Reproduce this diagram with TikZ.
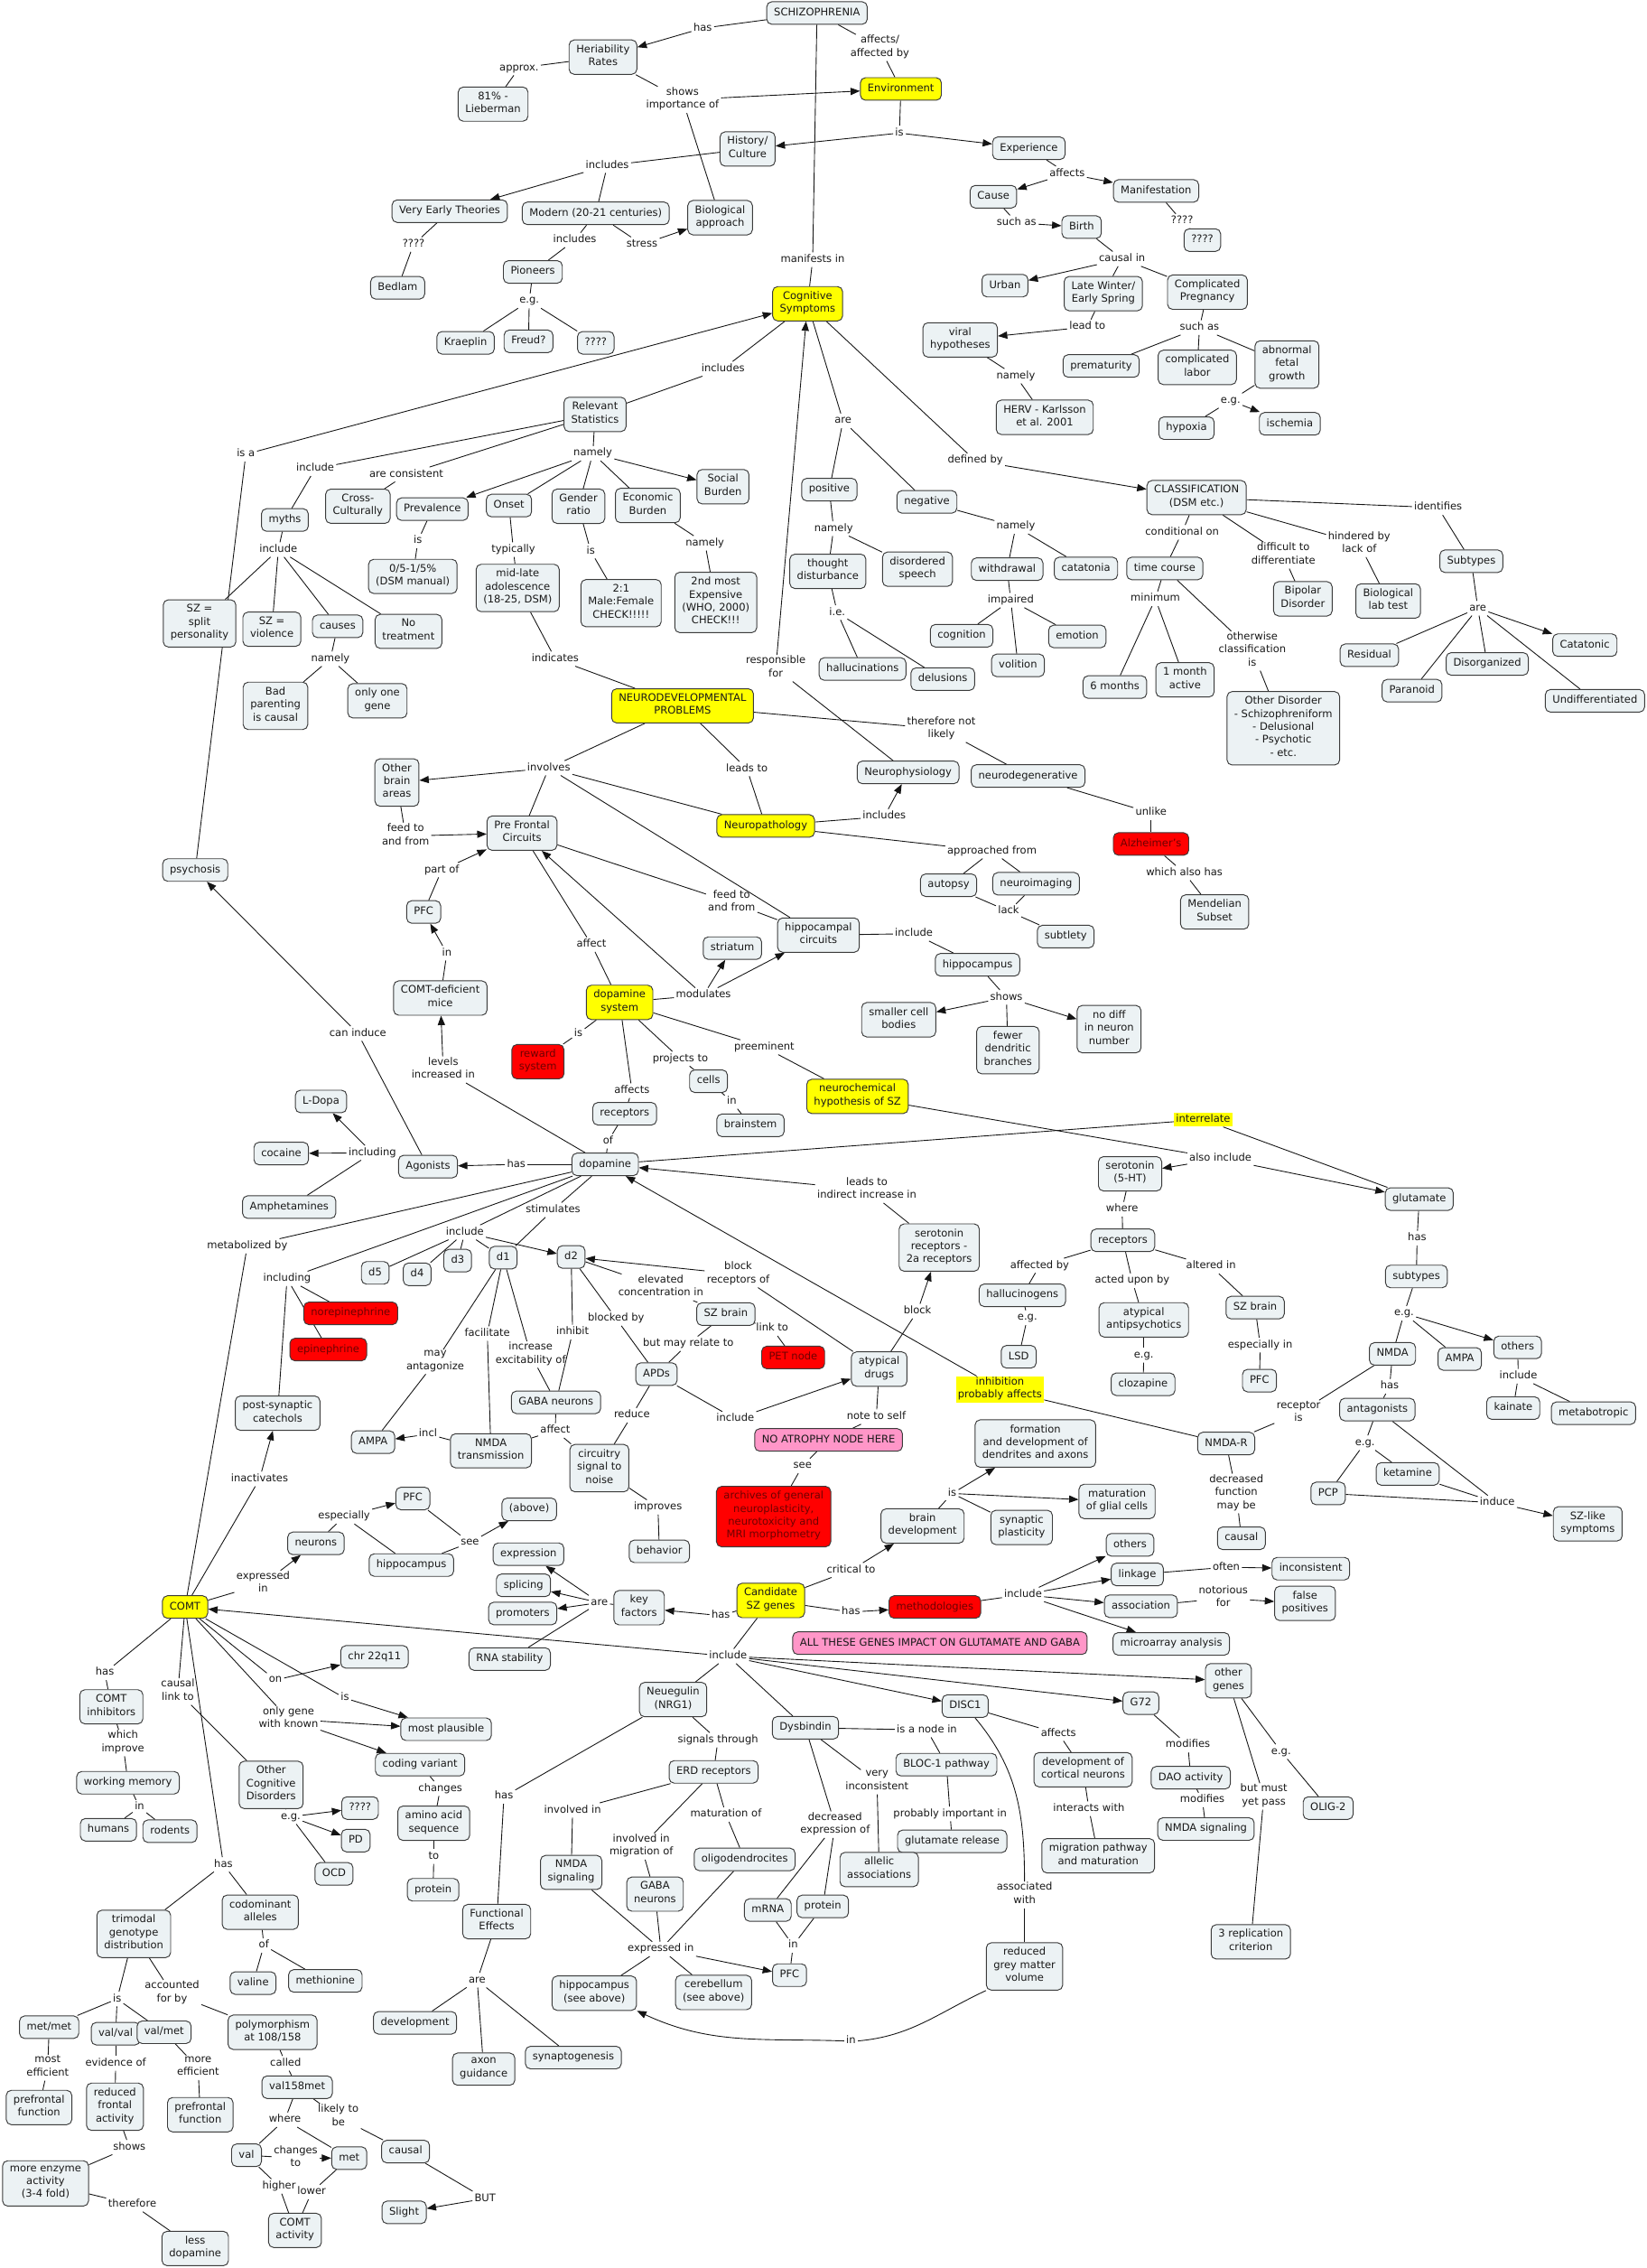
\documentclass[tikz,border=0pt]{standalone}
\usepackage{fontspec}
\setmainfont{DejaVu Sans}
\usetikzlibrary{arrows.meta,backgrounds}
\definecolor{cfill}{RGB}{236,242,244}
\definecolor{bord}{RGB}{60,60,60}
\definecolor{yel}{RGB}{255,255,0}
\definecolor{redc}{RGB}{255,0,0}
\definecolor{redtxt}{RGB}{110,0,0}
\definecolor{pinkc}{RGB}{255,150,200}
\definecolor{txt}{RGB}{25,25,25}
\definecolor{linec}{RGB}{20,20,20}
\newcommand{\cmf}{\fontsize{7.2pt}{9pt}\selectfont}
\newcommand{\conl}[2]{\draw[ln] (#1) -- (#2);}
\newcommand{\cona}[2]{\draw[ar] (#1) -- (#2);}
\begin{document}
\begin{tikzpicture}[x=1pt,y=-1pt,
 base/.style={font=\cmf,align=center,text=txt,execute at begin node=\strut,execute at end node=\strut},
 cn/.style={base,draw=bord,fill=cfill,rounded corners=3.5pt,line width=0.6pt,inner xsep=5pt,inner ysep=3.3pt},
 cny/.style={cn,fill=yel},
 cnr/.style={cn,fill=redc,text=redtxt},
 cnp/.style={cn,fill=pinkc},
 lk/.style={base,inner xsep=1.3pt,inner ysep=0.4pt},
 lky/.style={lk,fill=yel},
 ln/.style={line width=0.55pt,draw=linec},
 ar/.style={ln,-{Triangle[length=6.5pt,width=5pt]}}]
\useasboundingbox (0,0) rectangle (1139,1568);
% ---------------- top
\node[cn] (sz) at (565,9) {SCHIZOPHRENIA};
\node[lk] (lhas1) at (486,19.5) {has};
\node[cn] (her) at (417,39.5) {Heriability\\Rates};
\node[lk] (lapprox) at (359,47) {approx.};
\node[cn] (p81) at (341,72) {81\% -\\Lieberman};
\node[lk] (laff) at (608.5,33) {affects/\\affected by};
\node[cny] (env) at (623,61.5) {Environment};
\node[lk] (lshows) at (472,69) {shows\\importance of};
\node[cn] (hist) at (517,103) {History/\\Culture};
\node[lk] (lis1) at (622,92) {is};
\node[cn] (exper) at (711.5,102.5) {Experience};
\node[lk] (lincl1) at (420,114.5) {includes};
\node[cn] (vet) at (311,146) {Very Early Theories};
\node[cn] (modern) at (412,147.5) {Modern (20-21 centuries)};
\node[cn] (bio) at (498,150.5) {Biological\\approach};
\node[lk] (lq1) at (286,169) {????};
\node[cn] (bed) at (275,199) {Bedlam};
\node[lk] (lincl2) at (397.5,166) {includes};
\node[lk] (lstress) at (444,169) {stress};
\node[cn] (pio) at (368.5,188) {Pioneers};
\node[lk] (leg1) at (366,208) {e.g.};
\node[cn] (kra) at (322,237) {Kraeplin};
\node[cn] (freud) at (365.5,236) {Freud?};
\node[cn] (qq2) at (412,237) {????};
\node[lk] (laffects1) at (738,120) {affects};
\node[cn] (cause) at (687,136) {Cause};
\node[cn] (manif) at (799.5,132) {Manifestation};
\node[lk] (lq3) at (817.5,153) {????};
\node[cn] (qq4) at (831.5,166) {????};
\node[lk] (lsuch1) at (703,154) {such as};
\node[cn] (birth) at (748,157) {Birth};
\node[lk] (lcausal) at (776,179) {causal in};
\node[cn] (urban) at (695,197.5) {Urban};
\node[cn] (late) at (763,203) {Late Winter/\\Early Spring};
\node[cn] (compp) at (835,202) {Complicated\\Pregnancy};
\node[lk] (lmanif) at (562,179.5) {manifests in};
\node[cny] (cog) at (558.5,210) {Cognitive\\Symptoms};
\node[lk] (llead) at (752,226) {lead to};
\node[cn] (viral) at (664,235) {viral\\hypotheses};
\node[lk] (lsuch2) at (829.5,226.5) {such as};
\node[cn] (prem) at (761.5,253) {prematurity};
\node[cn] (clab) at (828,254) {complicated\\labor};
\node[cn] (afg) at (890,252) {abnormal\\fetal\\growth};
\node[lk] (lnamely1) at (702.5,260) {namely};
\node[cn] (herv) at (722.5,288.5) {HERV - Karlsson\\et al. 2001};
\node[lk] (leg2) at (851,277) {e.g.};
\node[cn] (hypox) at (820.5,296) {hypoxia};
\node[cn] (isch) at (892,293) {ischemia};
% ---------------- upper middle
\node[lk] (lincl3) at (500,255) {includes};
\node[cn] (rel) at (411.5,286.5) {Relevant\\Statistics};
\node[lk] (lare1) at (583,291) {are};
\node[lk] (ldefby) at (674.5,318.5) {defined by};
\node[lk] (lisa) at (170,314) {is a};
\node[lk] (lincl4) at (218,324) {include};
\node[lk] (larecons) at (281,328) {are consistent};
\node[lk] (lnamely2) at (410,313.5) {namely};
\node[cn] (social) at (500,336.5) {Social\\Burden};
\node[cn] (cross) at (247.5,350) {Cross-\\Culturally};
\node[cn] (prev) at (299,352) {Prevalence};
\node[cn] (onset) at (352,349.5) {Onset};
\node[cn] (gender) at (400,350) {Gender\\ratio};
\node[cn] (econ) at (448,349.5) {Economic\\Burden};
\node[cn] (pos) at (573.5,338.5) {positive};
\node[cn] (neg) at (641,347) {negative};
\node[cn] (classif) at (827.5,344) {CLASSIFICATION\\(DSM etc.)};
\node[lk] (lident) at (994.5,351) {identifies};
\node[cn] (myths) at (197,359.5) {myths};
\node[lk] (lnamely3) at (576.5,365.5) {namely};
\node[lk] (lnamely4) at (702.5,364) {namely};
\node[lk] (lnamely5) at (487.5,375.5) {namely};
\node[lk] (lcond) at (817.5,368) {conditional on};
\node[lk] (lhind) at (940,376) {hindered by\\lack of};
\node[lk] (ldiff) at (887.5,384) {difficult to\\differentiate};
\node[lk] (lincl5) at (192.5,380) {include};
\node[lk] (lis2) at (289,374) {is};
\node[lk] (ltyp) at (355,380) {typically};
\node[lk] (lis3) at (408.5,381) {is};
\node[cn] (subtypes) at (1017.5,388) {Subtypes};
\node[cn] (tcourse) at (805.5,393) {time course};
\node[cn] (thought) at (572.5,395) {thought\\disturbance};
\node[cn] (disord) at (634.5,393.5) {disordered\\speech};
\node[cn] (withd) at (696.5,393.5) {withdrawal};
\node[cn] (catat) at (751,393) {catatonia};
\node[cn] (dsm) at (285.5,398.5) {0/5-1/5\%\\(DSM manual)};
\node[cn] (midl) at (358,406.5) {mid-late\\adolescence\\(18-25, DSM)};
\node[cn] (male) at (429.5,417) {2:1\\Male:Female\\CHECK!!!!!};
\node[cn] (expens) at (495,416.5) {2nd most\\Expensive\\(WHO, 2000)\\CHECK!!!};
\node[cn] (bipol) at (901,414) {Bipolar\\Disorder};
\node[cn] (blab) at (960,415.5) {Biological\\lab test};
\node[lk] (lmin) at (799,414) {minimum};
\node[lk] (limp) at (699,415) {impaired};
\node[lk] (lare2) at (1022,420.5) {are};
\node[lk] (lie) at (579,423.5) {i.e.};
\node[cn] (splitp) at (138,431) {SZ =\\split\\personality};
\node[cn] (viol) at (188,435) {SZ =\\violence};
\node[cn] (causes) at (233.5,433) {causes};
\node[cn] (notreat) at (282.5,436.5) {No\\treatment};
\node[cn] (cogn) at (665,439.5) {cognition};
\node[cn] (emot) at (745,440) {emotion};
\node[cn] (catn) at (1096,446) {Catatonic};
\node[lk] (lotherw) at (866,450) {otherwise\\classification\\is};
\node[cn] (resid) at (947,453) {Residual};
\node[cn] (disorg) at (1028.5,459) {Disorganized};
\node[lk] (lnamely6) at (228.5,455.5) {namely};
\node[lk] (lindic) at (384,455.5) {indicates};
\node[cn] (volit) at (704,460) {volition};
\node[cn] (hallu) at (596.5,462.5) {hallucinations};
\node[lk] (lresp) at (536.5,462) {responsible\\for};
\node[cn] (delus) at (652,469.5) {delusions};
\node[cn] (onem) at (819.5,470) {1 month\\active};
\node[cn] (sixm) at (771,475) {6 months};
\node[cn] (paran) at (976.5,477.5) {Paranoid};
\node[cn] (undiff) at (1103,484.5) {Undifferentiated};
\node[cn] (badp) at (190.5,488) {Bad\\parenting\\is causal};
\node[cn] (onegene) at (261,484.5) {only one\\gene};
\node[cny] (ndp) at (472,488) {NEURODEVELOPMENTAL\\PROBLEMS};
\node[cn] (otherd) at (887.5,503.5) {Other Disorder\\- Schizophreniform\\- Delusional\\- Psychotic\\- etc.};
\node[lk] (lthere) at (651,504) {therefore not\\likely};
\node[cn] (oba) at (274.5,541) {Other\\brain\\areas};
\node[lk] (linv) at (379.5,531) {involves};
\node[lk] (lleads) at (516.5,531.5) {leads to};
\node[cn] (neuroph) at (628,534) {Neurophysiology};
\node[cn] (neurodeg) at (711,536.5) {neurodegenerative};
\node[lk] (lunlike) at (796,562) {unlike};
\node[lk] (lincl6) at (611.5,564.5) {includes};
\node[cny] (npath) at (529.5,571) {Neuropathology};
\node[cn] (pfcc) at (361,576) {Pre Frontal\\Circuits};
\node[lk] (lfeed1) at (280.5,578) {feed to\\and from};
\node[cnr] (alz) at (796,583.5) {Alzheimer's};
\node[lk] (lappr) at (686,588.5) {approached from};
\node[cn] (psych) at (135,601.5) {psychosis};
\node[lk] (lpartof) at (305.5,601.5) {part of};
\node[lk] (lwhich) at (819,603.5) {which also has};
\node[cn] (autop) at (656,612) {autopsy};
\node[cn] (neuroi) at (716.5,611) {neuroimaging};
\node[lk] (lfeed2) at (506,624) {feed to\\and from};
\node[cn] (pfc1) at (293,630.5) {PFC};
\node[lk] (llack) at (697.5,630) {lack};
\node[cn] (mend) at (840,630.5) {Mendelian\\Subset};
\node[cn] (hipc) at (566,646.5) {hippocampal\\circuits};
\node[lk] (lincl7) at (632,645.5) {include};
\node[cn] (subtl) at (737,647.5) {subtlety};
\node[lk] (laffect1) at (409,653) {affect};
\node[cn] (striat) at (506.5,655.5) {striatum};
\node[lk] (lin1) at (309,659) {in};
\node[cn] (hippo1) at (676,667) {hippocampus};
\node[lk] (lmodul) at (486.5,688) {modulates};
\node[lk] (lshows2) at (696,689.5) {shows};
\node[cn] (comtm) at (304.5,690) {COMT-deficient\\mice};
\node[cny] (dsys) at (428.5,693) {dopamine\\system};
\node[cn] (smaller) at (621.5,705) {smaller cell\\bodies};
\node[cn] (nodiff) at (767,711.5) {no diff\\in neuron\\number};
\node[lk] (lcan) at (247.5,714.5) {can induce};
\node[lk] (lis4) at (400,714.5) {is};
\node[lk] (lpre) at (528.5,724) {preeminent};
\node[cn] (fewer) at (697,726) {fewer\\dendritic\\branches};
\node[lk] (lproj) at (470.5,732) {projects to};
\node[cnr] (reward) at (372,734) {reward\\system};
\node[lk] (llevels) at (306.5,739.5) {levels\\increased in};
\node[cn] (cells) at (490,747.5) {cells};
\node[lk] (laffects2) at (437,754) {affects};
\node[cny] (nhyp) at (593,758) {neurochemical\\hypothesis of SZ};
\node[cn] (ldopa) at (222,761.5) {L-Dopa};
\node[lk] (lin2) at (506,761.5) {in};
\node[cn] (recep1) at (432,770) {receptors};
\node[lky] (linter) at (832,774) {interrelate};
\node[cn] (brainst) at (519,778) {brainstem};
% ---------------- dopamine area
\node[lk] (lof1) at (420.5,789) {of};
\node[cn] (cocaine) at (194.5,797.5) {cocaine};
\node[lk] (linclg1) at (257.5,797) {including};
\node[lk] (lalsoinc) at (844,801) {also include};
\node[cn] (dopa) at (418.5,805) {dopamine};
\node[lk] (lhas2) at (357,805) {has};
\node[cn] (agon) at (296,806.5) {Agonists};
\node[cn] (sero) at (781.5,811.5) {serotonin\\(5-HT)};
\node[lk] (lleadsto) at (599.5,822.5) {leads to\\indirect increase in};
\node[cn] (glut) at (981.5,829) {glutamate};
\node[cn] (amph) at (200,834.5) {Amphetamines};
\node[lk] (lwhere1) at (776,836) {where};
\node[lk] (lstim) at (382.5,836.5) {stimulates};
\node[lk] (lhas3) at (980,856) {has};
\node[lk] (lincl8) at (321.5,852) {include};
\node[cn] (recep2) at (776.5,857.5) {receptors};
\node[lk] (lmetab) at (171,861.5) {metabolized by};
\node[cn] (sr2a) at (649.5,862.5) {serotonin\\receptors -\\2a receptors};
\node[cn] (dd2) at (395,869) {d2};
\node[cn] (dd1) at (348,869.5) {d1};
\node[cn] (dd3) at (316.5,871.5) {d3};
\node[cn] (dd5) at (259.5,880) {d5};
\node[cn] (dd4) at (288.5,881) {d4};
\node[lk] (laffby) at (719,875) {affected by};
\node[lk] (lalt) at (837.5,875.5) {altered in};
\node[lk] (lblockrec) at (510.5,881) {block\\receptors of};
\node[cn] (subt2) at (979.5,882.5) {subtypes};
\node[lk] (linclg2) at (198.5,884) {including};
\node[lk] (lacted) at (783,885.5) {acted upon by};
\node[lk] (lelev) at (457,890) {elevated\\concentration in};
\node[cn] (halluc) at (707,895.5) {hallucinogens};
\node[cn] (szb2) at (868,904) {SZ brain};
\node[lk] (lblock) at (634.5,906.5) {block};
\node[lk] (leg3) at (971,908) {e.g.};
\node[cnr] (norepi) at (242.5,908) {norepinephrine};
\node[cn] (szb1) at (502,908.5) {SZ brain};
\node[lk] (leg4) at (710.5,911) {e.g.};
\node[lk] (lblockedby) at (426,911.5) {blocked by};
\node[cn] (atyp) at (791,912.5) {atypical\\antipsychotics};
\node[lk] (llinkto) at (534,918.5) {link to};
\node[lk] (linhibit) at (396,921) {inhibit};
\node[lk] (lfacil) at (337,922) {facilitate};
\node[lk] (lbut) at (476,929) {but may relate to};
\node[lk] (lespin) at (871.5,930) {especially in};
\node[cn] (others1) at (1049.5,931.5) {others};
\node[cnr] (epi) at (227,933) {epinephrine};
\node[lk] (lincr) at (367,936.5) {increase\\excitability of};
\node[cn] (nmda) at (963,936) {NMDA};
\node[lk] (leg5) at (791,937) {e.g.};
\node[cn] (lsd) at (704.5,938) {LSD};
\node[cnr] (pet) at (548.5,938.5) {PET node};
\node[cn] (ampa2) at (1009.5,939.5) {AMPA};
\node[lk] (lmayant) at (301,941.5) {may\\antagonize};
\node[cn] (atypd) at (608,946.5) {atypical\\drugs};
\node[cn] (apds) at (454,950) {APDs};
\node[lk] (lincl9) at (1050,951.5) {include};
\node[cn] (pfc3) at (871,954.5) {PFC};
\node[cn] (clozap) at (790.5,957) {clozapine};
\node[lk] (lhas4) at (961,958.5) {has};
\node[lky] (inhib) at (691.5,960.5) {inhibition\\probably affects};
\node[cn] (gaba1) at (384.5,969.5) {GABA neurons};
\node[cn] (kain) at (1046.5,973.5) {kainate};
\node[cn] (antag) at (952.5,974.5) {antagonists};
\node[cn] (metabo) at (1102,977) {metabotropic};
\node[lk] (lrecis) at (898,977) {receptor\\is};
\node[cn] (post) at (192,977) {post-synaptic\\catechols};
\node[lk] (lreduce) at (437,978.5) {reduce};
\node[lk] (lnote) at (606,979.5) {note to self};
\node[lk] (lincl10) at (508.5,981) {include};
\node[lk] (laffect2) at (384,989) {affect};
\node[lk] (lincl11) at (296,991.5) {incl};
\node[cnp] (noatr) at (573,995.5) {NO ATROPHY NODE HERE};
\node[cn] (ampa1) at (258,997) {AMPA};
\node[lk] (leg6) at (944,997.5) {e.g.};
\node[cn] (nmdar) at (848,998) {NMDA-R};
\node[cn] (form) at (716,998) {formation\\and development of\\dendrites and axons};
\node[cn] (nmdat) at (339.5,1003) {NMDA\\transmission};
\node[cn] (circ) at (414.5,1015) {circuitry\\signal to\\noise};
\node[lk] (lsee1) at (555,1013.5) {see};
\node[cn] (ket) at (973.5,1019) {ketamine};
\node[lk] (linact) at (179.5,1022.5) {inactivates};
\node[lk] (lis5) at (658.5,1032.5) {is};
\node[cn] (pcp) at (918.5,1032.5) {PCP};
\node[lk] (ldecr) at (855,1032.5) {decreased\\function\\may be};
\node[cn] (pfc2) at (285.5,1036) {PFC};
\node[cn] (mat) at (772.5,1038) {maturation\\of glial cells};
\node[lk] (linduce) at (1035.5,1039) {induce};
\node[lk] (limpr) at (455,1042) {improves};
\node[cn] (abv) at (366,1043.5) {(above)};
\node[lk] (lespe) at (238,1048.5) {especially};
\node[cnr] (archives) at (535,1048.5) {archives of general\\neuroplasticity,\\neurotoxicity and\\MRI morphometry};
\node[cn] (szlike) at (1098,1053.5) {SZ-like\\symptoms};
\node[cn] (braind) at (638,1055) {brain\\development};
\node[cn] (synpl) at (706.5,1056) {synaptic\\plasticity};
\node[cn] (causal1) at (858.5,1063.5) {causal};
\node[lk] (lsee2) at (325,1066.5) {see};
\node[cn] (neurons) at (218.5,1067) {neurons};
\node[cn] (others2) at (781.5,1068) {others};
\node[cn] (behav) at (456,1072.5) {behavior};
\node[cn] (expr) at (365.5,1074.5) {expression};
\node[cn] (hippo2) at (284.5,1082) {hippocampus};
\node[lk] (loften) at (848,1083.5) {often};
\node[cn] (incons) at (906.5,1084.5) {inconsistent};
\node[lk] (lcrit) at (588.5,1085.5) {critical to};
\node[cn] (linkage) at (786.5,1088.5) {linkage};
\node[lk] (lexpin) at (182,1095) {expressed\\in};
\node[cn] (splic) at (362,1096) {splicing};
\node[lk] (lincl12) at (707.5,1102.5) {include};
\node[lk] (lnotor) at (846,1105) {notorious\\for};
\node[cny] (csz) at (533,1106.5) {Candidate\\SZ genes};
\node[lk] (lare3) at (414.5,1108) {are};
\node[cn] (falsep) at (902.5,1108.5) {false\\positives};
\node[cn] (assoc) at (789,1110.5) {association};
\node[cnr] (method) at (646.5,1111) {methodologies};
\node[cny] (comt) at (128,1111) {COMT};
\node[cn] (keyf) at (442,1111.5) {key\\factors};
\node[lk] (lhas5) at (588.5,1114.5) {has};
\node[cn] (promo) at (361.5,1115.5) {promoters};
\node[lk] (lhas6) at (498.5,1117) {has};
\node[cnp] (allth) at (650,1136) {ALL THESE GENES IMPACT ON GLUTAMATE AND GABA};
\node[cn] (micro) at (810,1136.5) {microarray analysis};
\node[lk] (lincl13) at (503.5,1145) {include};
\node[cn] (chr) at (259,1145.5) {chr 22q11};
\node[cn] (rnast) at (352.5,1147) {RNA stability};
% ---------------- bottom
\node[lk] (lhas7) at (72.5,1156.5) {has};
\node[lk] (lon) at (190.5,1161.5) {on};
\node[cn] (othg) at (849.5,1162) {other\\genes};
\node[lk] (lcausal2) at (123,1169.5) {causal\\link to};
\node[lk] (lis6) at (238.5,1174) {is};
\node[cn] (nrg1) at (465.5,1175) {Neuegulin\\(NRG1)};
\node[cn] (g72) at (789,1177.5) {G72};
\node[cn] (disc1) at (667.5,1179.5) {DISC1};
\node[cn] (comti) at (77,1180) {COMT\\inhibitors};
\node[lk] (lonly) at (199.5,1188.5) {only gene\\with known};
\node[cn] (dysb) at (557,1194.5) {Dysbindin};
\node[cn] (mostp) at (308.5,1195.5) {most plausible};
\node[lk] (lisnode) at (641,1196) {is a node in};
\node[lk] (laffects3) at (732,1198.5) {affects};
\node[lk] (lsignals) at (496.5,1203) {signals through};
\node[lk] (lwhich2) at (85,1205) {which\\improve};
\node[lk] (lmodif1) at (821.5,1206.5) {modifies};
\node[lk] (leg7) at (886,1211) {e.g.};
\node[cn] (coding) at (290.5,1220) {coding variant};
\node[cn] (bloc) at (654.5,1220) {BLOC-1 pathway};
\node[cn] (devcort) at (749,1223.5) {development of\\cortical neurons};
\node[cn] (erd) at (493.5,1225) {ERD receptors};
\node[cn] (dao) at (823.5,1229) {DAO activity};
\node[lk] (lveryinc) at (606.5,1232) {very\\inconsistent};
\node[cn] (workm) at (88.5,1232.5) {working memory};
\node[cn] (ocog) at (187.5,1234) {Other\\Cognitive\\Disorders};
\node[lk] (lchanges) at (304.5,1236.5) {changes};
\node[lk] (lbutmust) at (874,1242) {but must\\yet pass};
\node[lk] (lhas8) at (348.5,1242) {has};
\node[lk] (lmodif2) at (831.5,1244.5) {modifies};
\node[cn] (qq5) at (249,1250) {????};
\node[lk] (lin3) at (96.5,1249.5) {in};
\node[cn] (olig) at (918.5,1250) {OLIG-2};
\node[lk] (linvin) at (396,1251.5) {involved in};
\node[lk] (linteracts) at (753,1250.5) {interacts with};
\node[lk] (lprob) at (657,1254) {probably important in};
\node[lk] (lmatof) at (502,1254.5) {maturation of};
\node[lk] (leg8) at (201,1256) {e.g.};
\node[cn] (amino) at (300,1260.5) {amino acid\\sequence};
\node[lk] (ldecexp) at (577.5,1261.5) {decreased\\expression of};
\node[cn] (nmdas2) at (834,1264.5) {NMDA signaling};
\node[cn] (humans) at (75,1265) {humans};
\node[cn] (rodents) at (117.5,1266) {rodents};
\node[cn] (pd) at (246,1272.5) {PD};
\node[cn] (glurel) at (658.5,1273) {glutamate release};
\node[lk] (linvmig) at (443.5,1276.5) {involved in\\migration of};
\node[cn] (migr) at (759.5,1283) {migration pathway\\and maturation};
\node[lk] (lto) at (300,1283.5) {to};
\node[cn] (oligo) at (515,1285.5) {oligodendrocites};
\node[lk] (lhas9) at (154.5,1289) {has};
\node[cn] (allelic) at (608,1292.5) {allelic\\associations};
\node[cn] (nmdas1) at (395,1294.5) {NMDA\\signaling};
\node[cn] (ocd) at (231,1295.5) {OCD};
\node[cn] (prot1) at (299.5,1306.5) {protein};
\node[cn] (gaba2) at (453,1309.5) {GABA\\neurons};
\node[lk] (lassocw) at (708.5,1310) {associated\\with};
\node[cn] (prot2) at (569,1318) {protein};
\node[cn] (mrna) at (531,1320.5) {mRNA};
\node[cn] (codom) at (180,1322) {codominant\\alleles};
\node[cn] (funct) at (343.5,1328.5) {Functional\\Effects};
\node[cn] (trim) at (92.5,1337) {trimodal\\genotype\\distribution};
\node[cn] (three) at (865,1342.5) {3 replication\\criterion};
\node[lk] (lof2) at (182.5,1345) {of};
\node[lk] (lin4) at (548.5,1345) {in};
\node[lk] (lexpin2) at (457,1347.5) {expressed in};
\node[cn] (rgm) at (708.5,1359.5) {reduced\\grey matter\\volume};
\node[cn] (pfc4) at (546,1365.5) {PFC};
\node[lk] (lare4) at (330,1369) {are};
\node[cn] (methi) at (225,1369.5) {methionine};
\node[cn] (valine) at (175,1371) {valine};
\node[cn] (cereb) at (493.5,1377.5) {cerebellum\\(see above)};
\node[lk] (lacc) at (119,1378) {accounted\\for by};
\node[cn] (hsa) at (411,1378) {hippocampus\\(see above)};
\node[lk] (lis7) at (81,1382) {is};
\node[cn] (devel) at (287,1398.5) {development};
\node[cn] (metmet) at (34,1401.5) {met/met};
\node[cn] (valval) at (80,1406) {val/val};
\node[cn] (valmet) at (113.5,1405) {val/met};
\node[cn] (poly) at (188.5,1405) {polymorphism\\at 108/158};
\node[lk] (lin5) at (588.5,1411) {in};
\node[cn] (synap) at (396.5,1422.5) {synaptogenesis};
\node[lk] (lmost) at (33,1429.5) {most\\efficient};
\node[lk] (levid) at (80,1426.5) {evidence of};
\node[lk] (lmore) at (137,1429.5) {more\\efficient};
\node[lk] (lcalled) at (197.5,1426.5) {called};
\node[cn] (axon) at (334.5,1430.5) {axon\\guidance};
\node[cn] (v158) at (205.5,1443) {val158met};
\node[cn] (pf1) at (27,1457) {prefrontal\\function};
\node[cn] (rfa) at (79.5,1456.5) {reduced\\frontal\\activity};
\node[cn] (pf2) at (138.5,1462) {prefrontal\\function};
\node[lk] (lwhere2) at (197,1465.5) {where};
\node[lk] (llikely) at (234,1463.5) {likely to\\be};
\node[lk] (lshows3) at (89.5,1484.5) {shows};
\node[cn] (causal2) at (280.5,1487.5) {causal};
\node[cn] (val) at (170.5,1490) {val};
\node[lk] (lchto) at (204.5,1492) {changes\\to};
\node[cn] (metn) at (241.5,1492) {met};
\node[cn] (enz) at (31.5,1509.5) {more enzyme\\activity\\(3-4 fold)};
\node[lk] (lhigher) at (193,1511.5) {higher};
\node[lk] (llower) at (215.5,1515.5) {lower};
\node[lk] (lBUT) at (335.5,1520) {BUT};
\node[lk] (lthere2) at (91.5,1524) {therefore};
\node[cn] (slight) at (279.5,1529.5) {Slight};
\node[cn] (comtact) at (204,1542) {COMT\\activity};
\node[cn] (lessd) at (135,1554.5) {less\\dopamine};
% ================= connectors
\begin{scope}[on background layer]
\fill[white] (0,0) rectangle (1139,1568);
\conl{sz}{lhas1} \cona{lhas1}{her}
\conl{her}{lapprox} \conl{lapprox}{p81}
\conl{her}{lshows} \cona{lshows}{env} \conl{lshows}{bio}
\conl{sz}{laff} \conl{laff}{env}
\conl{sz}{lmanif} \conl{lmanif}{cog}
\conl{env}{lis1} \cona{lis1}{hist} \cona{lis1}{exper}
\conl{hist}{lincl1} \cona{lincl1}{vet} \conl{lincl1}{modern}
\conl{vet}{lq1} \conl{lq1}{bed}
\conl{modern}{lincl2} \conl{lincl2}{pio}
\conl{modern}{lstress} \cona{lstress}{bio}
\conl{pio}{leg1} \conl{leg1}{kra} \conl{leg1}{freud} \conl{leg1}{qq2}
\conl{exper}{laffects1} \cona{laffects1}{cause} \cona{laffects1}{manif}
\conl{manif}{lq3} \conl{lq3}{qq4}
\conl{cause}{lsuch1} \cona{lsuch1}{birth}
\conl{birth}{lcausal} \cona{lcausal}{urban} \conl{lcausal}{late} \conl{lcausal}{compp}
\conl{late}{llead} \cona{llead}{viral}
\conl{viral}{lnamely1} \conl{lnamely1}{herv}
\conl{compp}{lsuch2} \conl{lsuch2}{prem} \conl{lsuch2}{clab} \conl{lsuch2}{afg}
\conl{afg}{leg2} \conl{leg2}{hypox} \cona{leg2}{isch}
\conl{cog}{lincl3} \conl{lincl3}{rel}
\conl{cog}{lare1} \conl{lare1}{pos} \conl{lare1}{neg}
\conl{cog}{ldefby} \cona{ldefby}{classif}
\conl{psych}{lisa} \cona{lisa}{cog}
\conl{rel}{lincl4} \conl{lincl4}{myths}
\conl{rel}{larecons} \conl{larecons}{cross}
\conl{rel}{lnamely2} \cona{lnamely2}{prev} \conl{lnamely2}{onset} \conl{lnamely2}{gender} \conl{lnamely2}{econ} \cona{lnamely2}{social}
\conl{prev}{lis2} \conl{lis2}{dsm}
\conl{onset}{ltyp} \conl{ltyp}{midl}
\conl{gender}{lis3} \conl{lis3}{male}
\conl{econ}{lnamely5} \conl{lnamely5}{expens}
\conl{pos}{lnamely3} \conl{lnamely3}{thought} \conl{lnamely3}{disord}
\conl{thought}{lie} \conl{lie}{hallu} \conl{lie}{delus}
\conl{neg}{lnamely4} \conl{lnamely4}{withd} \conl{lnamely4}{catat}
\conl{withd}{limp} \conl{limp}{cogn} \conl{limp}{volit} \conl{limp}{emot}
\conl{classif}{lcond} \conl{lcond}{tcourse}
\conl{tcourse}{lmin} \conl{lmin}{sixm} \conl{lmin}{onem}
\conl{tcourse}{lotherw} \conl{lotherw}{otherd}
\conl{classif}{ldiff} \conl{ldiff}{bipol}
\conl{classif}{lhind} \conl{lhind}{blab}
\conl{classif}{lident} \conl{lident}{subtypes}
\conl{subtypes}{lare2} \conl{lare2}{resid} \conl{lare2}{paran} \conl{lare2}{disorg} \conl{lare2}{undiff} \cona{lare2}{catn}
\conl{myths}{lincl5} \conl{lincl5}{splitp} \conl{lincl5}{viol} \conl{lincl5}{causes} \conl{lincl5}{notreat}
\conl{causes}{lnamely6} \conl{lnamely6}{badp} \conl{lnamely6}{onegene}
\conl{midl}{lindic} \conl{lindic}{ndp}
\conl{ndp}{linv} \cona{linv}{oba} \conl{linv}{pfcc} \conl{linv}{npath} \conl{linv}{hipc}
\conl{ndp}{lleads} \conl{lleads}{npath}
\conl{ndp}{lthere} \conl{lthere}{neurodeg}
\conl{neurodeg}{lunlike} \conl{lunlike}{alz}
\conl{alz}{lwhich} \conl{lwhich}{mend}
\conl{neuroph}{lresp} \cona{lresp}{cog}
\conl{npath}{lincl6} \cona{lincl6}{neuroph}
\conl{npath}{lappr} \conl{lappr}{autop} \conl{lappr}{neuroi}
\conl{autop}{llack} \conl{neuroi}{llack} \conl{llack}{subtl}
\conl{oba}{lfeed1} \cona{lfeed1}{pfcc}
\conl{pfc1}{lpartof} \cona{lpartof}{pfcc}
\conl{comtm}{lin1} \cona{lin1}{pfc1}
\conl{dopa}{llevels} \cona{llevels}{comtm}
\conl{agon}{lcan} \cona{lcan}{psych}
\conl{hipc}{lfeed2} \conl{lfeed2}{pfcc}
\conl{hipc}{lincl7} \conl{lincl7}{hippo1}
\conl{hippo1}{lshows2} \cona{lshows2}{smaller} \conl{lshows2}{fewer} \cona{lshows2}{nodiff}
\conl{dsys}{laffect1} \conl{laffect1}{pfcc}
\conl{dsys}{lmodul} \cona{lmodul}{pfcc} \cona{lmodul}{striat} \cona{lmodul}{hipc}
\conl{dsys}{lis4} \conl{lis4}{reward}
\conl{dsys}{lproj} \conl{lproj}{cells} \conl{cells}{lin2} \conl{lin2}{brainst}
\conl{dsys}{laffects2} \conl{laffects2}{recep1} \conl{recep1}{lof1} \conl{lof1}{dopa}
\conl{dsys}{lpre} \conl{lpre}{nhyp}
\conl{nhyp}{lalsoinc} \cona{lalsoinc}{sero} \cona{lalsoinc}{glut}
\conl{dopa}{linter} \conl{linter}{glut}
\conl{dopa}{lhas2} \cona{lhas2}{agon}
\conl{agon}{linclg1} \cona{linclg1}{ldopa} \cona{linclg1}{cocaine} \conl{linclg1}{amph}
\conl{dopa}{lmetab} \conl{lmetab}{comt}
\conl{dopa}{linclg2} \conl{linclg2}{post} \conl{linclg2}{norepi} \conl{linclg2}{epi}
\conl{dopa}{lincl8} \conl{lincl8}{dd5} \conl{lincl8}{dd4} \conl{lincl8}{dd3} \conl{lincl8}{dd1} \cona{lincl8}{dd2}
\conl{dd1}{lstim} \conl{lstim}{dopa}
\conl{sr2a}{lleadsto} \cona{lleadsto}{dopa}
\conl{nmdar}{inhib} \cona{inhib}{dopa}
\conl{atypd}{lblockrec} \cona{lblockrec}{dd2}
\conl{atypd}{lblock} \cona{lblock}{sr2a}
\conl{dd2}{lelev} \conl{lelev}{szb1}
\conl{dd2}{lblockedby} \conl{lblockedby}{apds}
\conl{dd2}{linhibit} \conl{linhibit}{gaba1}
\conl{szb1}{lbut} \conl{lbut}{apds}
\conl{szb1}{llinkto} \conl{llinkto}{pet}
\conl{apds}{lreduce} \conl{lreduce}{circ}
\conl{apds}{lincl10} \cona{lincl10}{atypd}
\conl{atypd}{lnote} \conl{lnote}{noatr}
\conl{noatr}{lsee1} \conl{lsee1}{archives}
\conl{circ}{limpr} \conl{limpr}{behav}
\conl{gaba1}{laffect2} \conl{nmdat}{laffect2} \conl{laffect2}{circ}
\conl{dd1}{lincr} \conl{lincr}{gaba1}
\conl{dd1}{lfacil} \conl{lfacil}{nmdat}
\conl{dd1}{lmayant} \conl{lmayant}{ampa1}
\conl{nmdat}{lincl11} \cona{lincl11}{ampa1}
\conl{sero}{lwhere1} \conl{lwhere1}{recep2}
\conl{recep2}{laffby} \conl{laffby}{halluc} \conl{halluc}{leg4} \conl{leg4}{lsd}
\conl{recep2}{lacted} \conl{lacted}{atyp} \conl{atyp}{leg5} \conl{leg5}{clozap}
\conl{recep2}{lalt} \conl{lalt}{szb2} \conl{szb2}{lespin} \conl{lespin}{pfc3}
\conl{glut}{lhas3} \conl{lhas3}{subt2}
\conl{subt2}{leg3} \conl{leg3}{nmda} \conl{leg3}{ampa2} \cona{leg3}{others1}
\conl{others1}{lincl9} \conl{lincl9}{kain} \conl{lincl9}{metabo}
\conl{nmda}{lhas4} \conl{lhas4}{antag}
\conl{antag}{leg6} \conl{leg6}{pcp} \conl{leg6}{ket}
\conl{antag}{linduce} \conl{ket}{linduce} \conl{pcp}{linduce} \cona{linduce}{szlike}
\conl{nmda}{lrecis} \conl{lrecis}{nmdar}
\conl{nmdar}{ldecr} \conl{ldecr}{causal1}
\conl{comt}{linact} \cona{linact}{post}
\conl{comt}{lexpin} \cona{lexpin}{neurons}
\conl{neurons}{lespe} \cona{lespe}{pfc2} \conl{lespe}{hippo2}
\conl{pfc2}{lsee2} \conl{hippo2}{lsee2} \cona{lsee2}{abv}
\conl{keyf}{lare3} \cona{lare3}{expr} \cona{lare3}{splic} \cona{lare3}{promo} \conl{lare3}{rnast}
\conl{csz}{lhas6} \cona{lhas6}{keyf}
\conl{csz}{lcrit} \cona{lcrit}{braind}
\conl{braind}{lis5} \cona{lis5}{form} \cona{lis5}{mat} \conl{lis5}{synpl}
\conl{csz}{lhas5} \cona{lhas5}{method}
\conl{method}{lincl12} \cona{lincl12}{others2} \cona{lincl12}{linkage} \cona{lincl12}{assoc} \cona{lincl12}{micro}
\conl{linkage}{loften} \cona{loften}{incons}
\conl{assoc}{lnotor} \cona{lnotor}{falsep}
\conl{csz}{lincl13} \cona{lincl13}{comt} \conl{lincl13}{nrg1} \conl{lincl13}{dysb} \cona{lincl13}{disc1} \cona{lincl13}{g72} \cona{lincl13}{othg}
\conl{comt}{lhas7} \conl{lhas7}{comti} \conl{comti}{lwhich2} \conl{lwhich2}{workm} \conl{workm}{lin3} \conl{lin3}{humans} \conl{lin3}{rodents}
\conl{comt}{lcausal2} \conl{lcausal2}{ocog} \conl{ocog}{leg8} \cona{leg8}{qq5} \cona{leg8}{pd} \conl{leg8}{ocd}
\conl{comt}{lon} \cona{lon}{chr}
\conl{comt}{lis6} \cona{lis6}{mostp}
\conl{comt}{lonly} \cona{lonly}{mostp} \cona{lonly}{coding}
\conl{coding}{lchanges} \conl{lchanges}{amino} \conl{amino}{lto} \conl{lto}{prot1}
\conl{comt}{lhas9} \conl{lhas9}{trim} \conl{lhas9}{codom}
\conl{codom}{lof2} \conl{lof2}{valine} \conl{lof2}{methi}
\conl{trim}{lis7} \conl{lis7}{metmet} \conl{lis7}{valval} \conl{lis7}{valmet}
\conl{trim}{lacc} \conl{lacc}{poly}
\conl{metmet}{lmost} \conl{lmost}{pf1}
\conl{valval}{levid} \conl{levid}{rfa}
\conl{valmet}{lmore} \conl{lmore}{pf2}
\conl{rfa}{lshows3} \conl{lshows3}{enz}
\conl{enz}{lthere2} \conl{lthere2}{lessd}
\conl{poly}{lcalled} \conl{lcalled}{v158}
\conl{v158}{lwhere2} \conl{lwhere2}{val} \conl{lwhere2}{metn}
\conl{v158}{llikely} \conl{llikely}{causal2}
\conl{causal2}{lBUT} \cona{lBUT}{slight}
\conl{val}{lchto} \cona{lchto}{metn}
\conl{val}{lhigher} \conl{lhigher}{comtact} \conl{metn}{llower} \conl{llower}{comtact}
\conl{nrg1}{lsignals} \conl{lsignals}{erd}
\conl{nrg1}{lhas8} \conl{lhas8}{funct}
\conl{funct}{lare4} \conl{lare4}{devel} \conl{lare4}{axon} \conl{lare4}{synap}
\conl{erd}{linvin} \conl{linvin}{nmdas1}
\conl{erd}{linvmig} \conl{linvmig}{gaba2}
\conl{erd}{lmatof} \conl{lmatof}{oligo}
\conl{nmdas1}{lexpin2} \conl{gaba2}{lexpin2} \conl{oligo}{lexpin2} \conl{lexpin2}{hsa} \conl{lexpin2}{cereb} \cona{lexpin2}{pfc4}
\conl{dysb}{lisnode} \conl{lisnode}{bloc} \conl{bloc}{lprob} \conl{lprob}{glurel}
\conl{dysb}{lveryinc} \conl{lveryinc}{allelic}
\conl{dysb}{ldecexp} \conl{ldecexp}{mrna} \conl{ldecexp}{prot2}
\conl{mrna}{lin4} \conl{prot2}{lin4} \conl{lin4}{pfc4}
\conl{disc1}{laffects3} \conl{laffects3}{devcort} \conl{devcort}{linteracts} \conl{linteracts}{migr}
\draw[ln] (disc1) to[out=-50,in=90] (lassocw);
\conl{lassocw}{rgm}
\draw[ln] (rgm.south west) to[out=-155,in=5] (lin5.east);
\draw[ar] (lin5.west) to[out=178,in=-25] (hsa.south east);
\conl{g72}{lmodif1} \conl{lmodif1}{dao} \conl{dao}{lmodif2} \conl{lmodif2}{nmdas2}
\conl{othg}{leg7} \conl{leg7}{olig}
\conl{othg}{lbutmust} \conl{lbutmust}{three}
\end{scope}
\end{tikzpicture}
\end{document}
